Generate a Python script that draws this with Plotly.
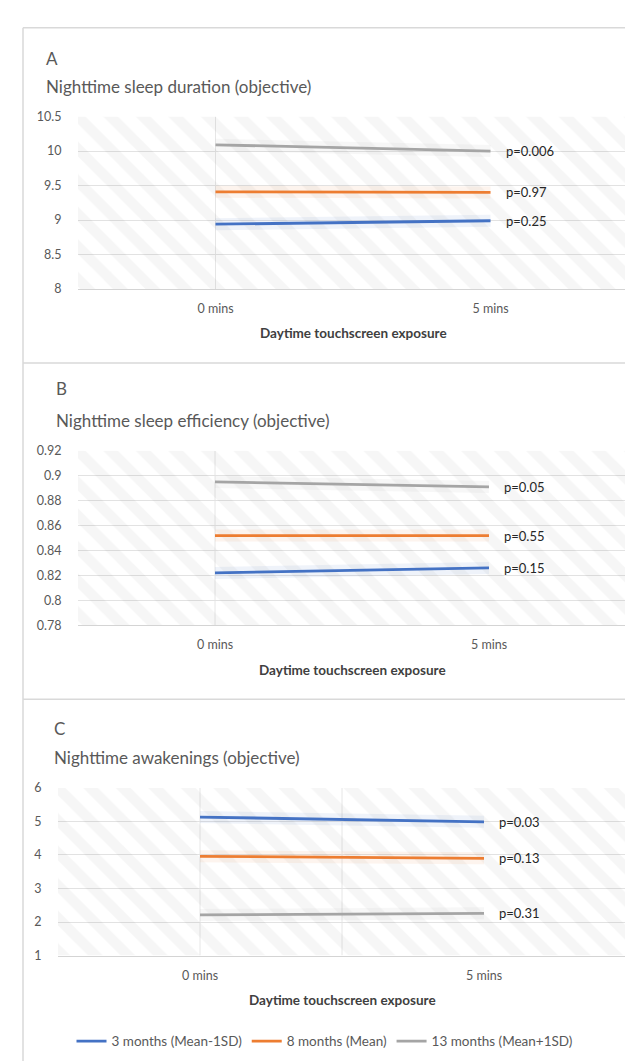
import plotly.graph_objects as go

# ---------------- data ----------------
categories = ["0 mins", "5 mins"]
series_names = ["3 months (Mean-1SD)", "8 months (Mean)", "13 months (Mean+1SD)"]
series_colors = ["#4472C4", "#ED7D31", "#A5A5A5"]

# Panel A: Nighttime sleep duration (objective)
dur_3m = [8.94, 8.99]
dur_8m = [9.41, 9.40]
dur_13m = [10.09, 10.00]
dur_p = ["p=0.25", "p=0.97", "p=0.006"]

# Panel B: Nighttime sleep efficiency (objective)
eff_3m = [0.822, 0.826]
eff_8m = [0.852, 0.852]
eff_13m = [0.895, 0.891]
eff_p = ["p=0.15", "p=0.55", "p=0.05"]

# Panel C: Nighttime awakenings (objective)
awk_3m = [5.13, 4.99]
awk_8m = [3.96, 3.90]
awk_13m = [2.21, 2.26]
awk_p = ["p=0.03", "p=0.13", "p=0.31"]

panel_letters = ["A", "B", "C"]
panel_titles = ["Nighttime sleep duration (objective)",
                "Nighttime sleep efficiency (objective)",
                "Nighttime awakenings (objective)"]
x_title = "Daytime touchscreen exposure"

y_ranges = [(8, 10.5), (0.78, 0.92), (1, 6)]
y_dticks = [0.5, 0.02, 1]

# ---------------- layout geometry (pixels) ----------------
W, H = 633, 1061
FONT = "Lato, 'Open Sans', sans-serif"
panels = [
    dict(series=[dur_3m, dur_8m, dur_13m], p=dur_p, x0=70, x1=620, top=102, bot=277,
         letter_y=43, letter_x=36, title_y=72, tick_y=297, xt_y=322),
    dict(series=[eff_3m, eff_8m, eff_13m], p=eff_p, x0=70, x1=618, top=441, bot=618,
         letter_y=378, letter_x=46, title_y=410, tick_y=640, xt_y=663),
    dict(series=[awk_3m, awk_8m, awk_13m], p=awk_p, x0=50, x1=618, top=783, bot=953,
         letter_y=723, letter_x=44, title_y=752, tick_y=975, xt_y=998),
]

def py(v):
    return 1 - v / H

fig = go.Figure()
layout_axes = {}
annotations = []
shapes = []

for i, pn in enumerate(panels):
    k = "" if i == 0 else str(i + 1)
    xa, ya = "x" + k, "y" + k
    ymin, ymax = y_ranges[i]

    # hatched plot-area background
    fig.add_trace(go.Scatter(
        x=[-0.5, 1.5, 1.5, -0.5, -0.5], y=[ymin, ymin, ymax, ymax, ymin],
        xaxis=xa, yaxis=ya, mode="lines", line=dict(width=0),
        fill="toself", fillcolor="rgba(0,0,0,0)",
        fillpattern=dict(shape="\\", fgcolor="rgba(0,0,0,0.07)",
                         bgcolor="rgba(0,0,0,0)", size=23, solidity=0.45),
        hoverinfo="skip", showlegend=False))

    for j, vals in enumerate(pn["series"]):
        # soft glow
        fig.add_trace(go.Scatter(
            x=[0, 1], y=vals, xaxis=xa, yaxis=ya, mode="lines",
            line=dict(color=series_colors[j], width=12), opacity=0.08,
            hoverinfo="skip", showlegend=False))
        fig.add_trace(go.Scatter(
            x=[0, 1], y=vals, xaxis=xa, yaxis=ya, mode="lines",
            name=series_names[j], legendgroup=series_names[j],
            line=dict(color=series_colors[j], width=2.8),
            showlegend=(i == 2)))
        annotations.append(dict(
            x=1, y=vals[1], xref=xa, yref=ya, text=pn["p"][j], showarrow=False,
            xanchor="left", yanchor="middle", xshift=13,
            font=dict(family=FONT, size=13, color="#262626")))

    layout_axes["xaxis" + k] = dict(
        domain=[pn["x0"] / W, pn["x1"] / W], anchor=ya,
        tickmode="array", tickvals=[0, 1], ticktext=categories,
        range=[-0.5, 1.5], showgrid=False, zeroline=False,
        showline=True, linecolor="#d4d4d4", linewidth=1,
        ticks="outside", ticklen=8, tickcolor="rgba(0,0,0,0)",
        tickfont=dict(family=FONT, size=12.5, color="#595959"), fixedrange=True)
    layout_axes["yaxis" + k] = dict(
        domain=[py(pn["bot"]), py(pn["top"])], anchor=xa,
        range=[ymin, ymax], dtick=y_dticks[i], tick0=ymin,
        showgrid=True, gridcolor="#e2e2e2", gridwidth=1, zeroline=False,
        ticks="outside", ticklen=13, tickcolor="rgba(0,0,0,0)",
        tickfont=dict(family=FONT, size=12.5, color="#595959"), fixedrange=True)

    # faint vertical gridline at first category
    shapes.append(dict(type="line", xref=xa, yref=ya, x0=0, x1=0, y0=ymin, y1=ymax,
                       line=dict(color="#e6e6e6", width=1), layer="below"))

    annotations.append(dict(x=pn["letter_x"] / W, y=py(pn["letter_y"]), xref="paper", yref="paper",
                            text=panel_letters[i], showarrow=False, xanchor="left", yanchor="middle",
                            font=dict(family=FONT, size=17, color="#595959")))
    annotations.append(dict(x=pn["letter_x"] / W, y=py(pn["title_y"]), xref="paper", yref="paper",
                            text=panel_titles[i], showarrow=False, xanchor="left", yanchor="middle",
                            font=dict(family=FONT, size=17, color="#595959")))
    annotations.append(dict(x=(pn["x0"] + pn["x1"]) / 2 / W, y=py(pn["xt_y"]), xref="paper", yref="paper",
                            text="<b>" + x_title + "</b>", showarrow=False, xanchor="center",
                            yanchor="middle", font=dict(family=FONT, size=13.5, color="#404040")))

# middle vertical gridline in panel C
shapes.append(dict(type="line", xref="x3", yref="y3", x0=0.5, x1=0.5, y0=1, y1=6,
                   line=dict(color="#e6e6e6", width=1), layer="below"))

# panel frame lines
for yy in [12, 352, 693]:
    shapes.append(dict(type="line", xref="paper", yref="paper", x0=15 / W, x1=1,
                       y0=py(yy), y1=py(yy), line=dict(color="#d9d9d9", width=1.5)))
shapes.append(dict(type="line", xref="paper", yref="paper", x0=15 / W, x1=15 / W,
                   y0=0, y1=py(12), line=dict(color="#d9d9d9", width=1.5)))

fig.update_layout(
    width=W, height=H, margin=dict(l=0, r=0, t=0, b=0),
    paper_bgcolor="white", plot_bgcolor="white",
    showlegend=True,
    legend=dict(orientation="h", x=0.5, xanchor="center", y=py(1040), yanchor="middle",
                font=dict(family=FONT, size=13.5, color="#595959"),
                itemwidth=30, tracegroupgap=0, bgcolor="rgba(0,0,0,0)"),
    annotations=annotations, shapes=shapes,
    **layout_axes)

fig.write_html("out.html")
